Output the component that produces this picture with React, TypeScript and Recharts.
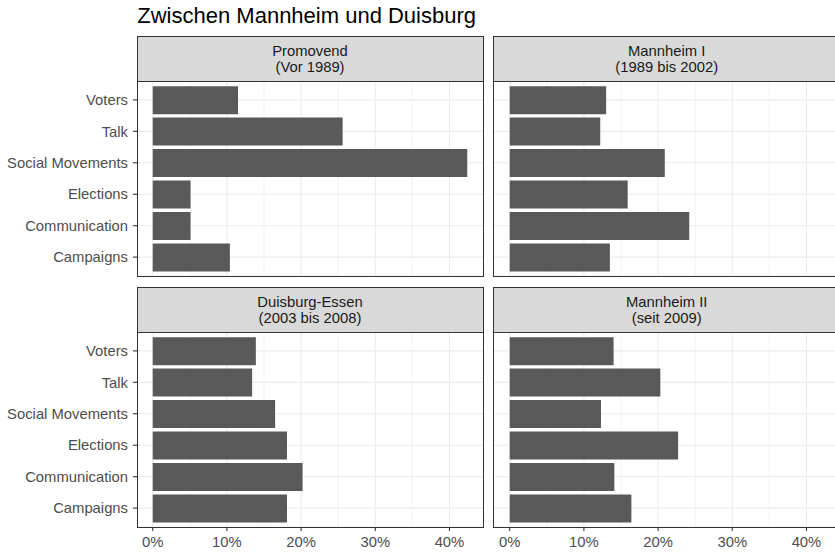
import { BarChart, Bar, XAxis, YAxis, CartesianGrid } from "recharts";

const FONT = "'Liberation Sans', Arial, Helvetica, sans-serif";

const topics = ["Voters", "Talk", "Social Movements", "Elections", "Communication", "Campaigns"];

// shares per period (percent)
const promovend = [11.5, 25.6, 42.4, 5.1, 5.1, 10.4];
const mannheimI = [13.0, 12.2, 20.9, 15.9, 24.2, 13.5];
const duisburgEssen = [13.9, 13.4, 16.5, 18.1, 20.2, 18.1];
const mannheimII = [14.0, 20.3, 12.3, 22.7, 14.1, 16.4];

const panelTitles = ["Promovend", "Mannheim I", "Duisburg-Essen", "Mannheim II"];
const panelPeriods = ["(Vor 1989)", "(1989 bis 2002)", "(2003 bis 2008)", "(seit 2009)"];

const majorTicks = [0, 10, 20, 30, 40];
const minorTicks = [5, 15, 25, 35];

const PLOT_W = 346;
const PLOT_H = 195;
const STRIP_H = 45;
const Y_AXIS_W = 137;
const X_AXIS_H = 25;
const TEXT_SIZE = 14.8;

interface PanelProps {
  x: number;
  y: number;
  values: number[];
  title: string;
  period: string;
  showY: boolean;
  showX: boolean;
}

function Panel({ x, y, values, title, period, showY, showX }: PanelProps) {
  const data = topics.map((t, i) => ({ topic: t, share: values[i] }));
  const chartLeft = showY ? x - Y_AXIS_W : x;
  const chartW = showY ? Y_AXIS_W + PLOT_W : PLOT_W;
  const chartH = PLOT_H + (showX ? X_AXIS_H : 0);

  return (
    <>
      <div
        style={{
          position: "absolute",
          left: x - 0.5,
          top: y - STRIP_H - 0.5,
          width: PLOT_W + 1,
          height: STRIP_H + 1,
          boxSizing: "border-box",
          background: "#D9D9D9",
          border: "1px solid #333333",
          display: "flex",
          flexDirection: "column",
          alignItems: "center",
          justifyContent: "center",
          color: "#1A1A1A",
          fontSize: TEXT_SIZE,
          lineHeight: "16px",
          fontFamily: FONT,
        }}
      >
        <div>{title}</div>
        <div>{period}</div>
      </div>
      <div style={{ position: "absolute", left: chartLeft, top: y }}>
        <BarChart
          width={chartW}
          height={chartH}
          data={data}
          layout="vertical"
          margin={{ top: 0, right: 0, bottom: 0, left: 0 }}
        >
          <CartesianGrid stroke="#EBEBEB" strokeWidth={0.6} horizontal={false} verticalValues={minorTicks} />
          <CartesianGrid stroke="#EBEBEB" strokeWidth={1.1} verticalValues={majorTicks} />
          <XAxis
            type="number"
            domain={[-2.12, 44.52]}
            allowDataOverflow
            ticks={majorTicks}
            tickFormatter={(v) => `${v}%`}
            hide={!showX}
            height={X_AXIS_H}
            axisLine={false}
            tickLine={{ stroke: "#333333", strokeWidth: 1.1 }}
            tickSize={4}
            tickMargin={5}
            tick={{ fill: "#4D4D4D", fontSize: TEXT_SIZE, fontFamily: FONT }}
          />
          <YAxis
            type="category"
            dataKey="topic"
            hide={!showY}
            width={Y_AXIS_W}
            padding={{ top: 3.15, bottom: 3.15 }}
            axisLine={false}
            tickLine={{ stroke: "#333333", strokeWidth: 1.1 }}
            tickSize={4}
            tickMargin={5}
            interval={0}
            tick={{ fill: "#4D4D4D", fontSize: TEXT_SIZE, fontFamily: FONT }}
          />
          <Bar dataKey="share" fill="#595959" barSize={28} isAnimationActive={false} />
        </BarChart>
      </div>
      <div
        style={{
          position: "absolute",
          left: x - 0.5,
          top: y - 0.5,
          width: PLOT_W + 1,
          height: PLOT_H + 1,
          boxSizing: "border-box",
          border: "1px solid #333333",
          pointerEvents: "none",
        }}
      />
    </>
  );
}

export default function App() {
  const cols = [137, 493.7];
  const rows = [81, 332];
  const series = [promovend, mannheimI, duisburgEssen, mannheimII];

  return (
    <div
      style={{
        position: "absolute",
        left: 0,
        top: 0,
        width: 835,
        height: 552,
        overflow: "hidden",
        background: "#FFFFFF",
        fontFamily: FONT,
      }}
    >
      <svg width={835} height={30} style={{ position: "absolute", left: 0, top: 0 }}>
        <text x={137.3} y={22.5} fontSize={22} fill="#000000" fontFamily={FONT}>
          Zwischen Mannheim und Duisburg
        </text>
      </svg>
      {series.map((values, i) => (
        <Panel
          key={panelTitles[i]}
          x={cols[i % 2]}
          y={rows[Math.floor(i / 2)]}
          values={values}
          title={panelTitles[i]}
          period={panelPeriods[i]}
          showY={i % 2 === 0}
          showX={i >= 2}
        />
      ))}
    </div>
  );
}
